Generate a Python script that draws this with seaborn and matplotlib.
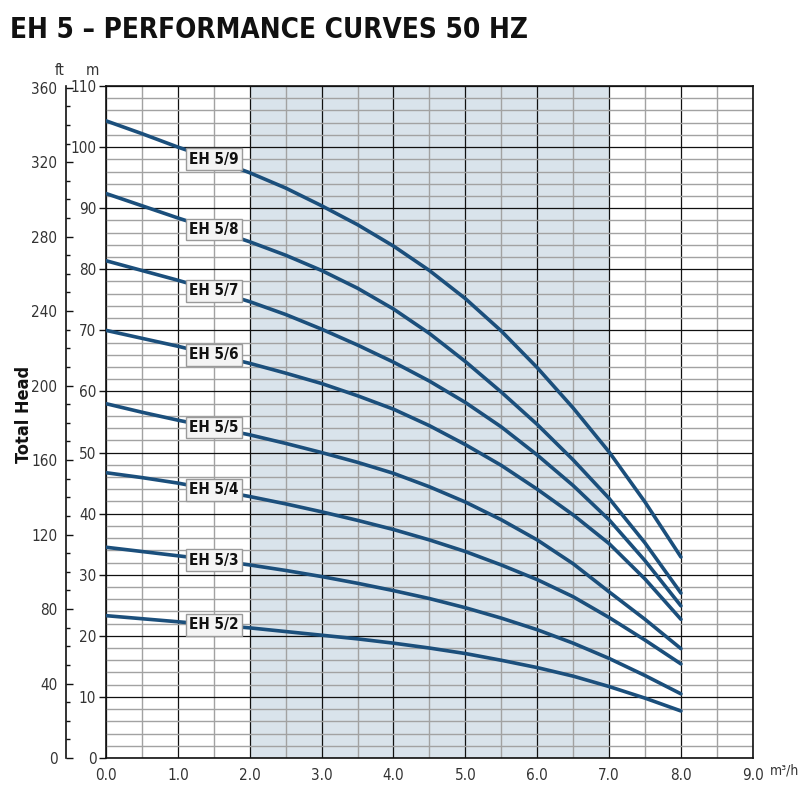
import matplotlib.pyplot as plt
import matplotlib.ticker as mticker
import numpy as np
import pandas as pd
import seaborn as sns

# Data (flow in m3/h, head in m)
flow = [0, 0.5, 1, 1.5, 2, 2.5, 3, 3.5, 4, 4.5, 5, 5.5, 6, 6.5, 7, 7.5, 8]
models = ['EH 5/2', 'EH 5/3', 'EH 5/4', 'EH 5/5', 'EH 5/6', 'EH 5/7', 'EH 5/8', 'EH 5/9']
head_5_2 = [23.3, 22.8, 22.3, 21.8, 21.3, 20.7, 20.1, 19.5, 18.8, 18.0, 17.1, 16.0, 14.8, 13.4, 11.7, 9.8, 7.7]
head_5_3 = [34.5, 33.8, 33.1, 32.4, 31.6, 30.7, 29.7, 28.6, 27.4, 26.1, 24.6, 22.9, 21.0, 18.8, 16.3, 13.5, 10.5]
head_5_4 = [46.7, 45.9, 45.0, 43.9, 42.8, 41.6, 40.3, 38.9, 37.4, 35.7, 33.8, 31.6, 29.2, 26.4, 23.0, 19.3, 15.4]
head_5_5 = [58.0, 56.6, 55.3, 54.1, 52.9, 51.5, 50.0, 48.4, 46.6, 44.4, 41.9, 39.0, 35.7, 31.8, 27.2, 22.7, 17.9]
head_5_6 = [70.0, 68.7, 67.4, 66.0, 64.6, 63.0, 61.3, 59.3, 57.1, 54.4, 51.3, 47.9, 44.0, 39.8, 35.1, 29.3, 22.7]
head_5_7 = [81.4, 79.8, 78.2, 76.5, 74.7, 72.6, 70.2, 67.6, 64.8, 61.7, 58.2, 54.2, 49.6, 44.6, 39.0, 32.3, 24.9]
head_5_8 = [92.4, 90.4, 88.4, 86.5, 84.5, 82.3, 79.8, 76.9, 73.5, 69.5, 64.9, 59.9, 54.6, 48.8, 42.5, 35.2, 27.0]
head_5_9 = [104.3, 102.2, 100.0, 98.0, 95.8, 93.3, 90.4, 87.3, 83.8, 79.8, 75.2, 69.9, 63.9, 57.3, 50.1, 41.9, 32.9]
heads = [head_5_2, head_5_3, head_5_4, head_5_5, head_5_6, head_5_7, head_5_8, head_5_9]
label_flow = 1.5

df = pd.DataFrame({
    'flow': flow * len(models),
    'head': sum(heads, []),
    'model': [m for m in models for _ in flow],
})

line_color = '#1b4f7c'
narrow = ['DejaVu Sans Condensed', 'Liberation Sans Narrow', 'DejaVu Sans']

sns.set_style('white')
plt.rcParams['font.family'] = narrow
plt.rcParams['font.stretch'] = 'condensed'

fig = plt.figure(figsize=(8, 8), dpi=100)
ax = fig.add_axes([0.1325, 0.0525, 0.8085, 0.84])

# recommended operating range
ax.axvspan(2, 7, color='#d9e3eb', zorder=0, lw=0)

sns.lineplot(data=df, x='flow', y='head', hue='model', palette=[line_color] * len(models),
             legend=False, lw=2.6, ax=ax, zorder=3)

# curve labels
for m, h in zip(models, heads):
    y = h[flow.index(label_flow)]
    ax.text(label_flow, y, m, ha='center', va='center', fontsize=11, fontweight='bold',
            color='#111111', zorder=5,
            bbox=dict(boxstyle='square,pad=0.22', fc='#f4f4f4', ec='#9a9a9a', lw=1.0))

ax.set_xlim(0, 9)
ax.set_ylim(0, 110)
ax.xaxis.set_major_locator(mticker.MultipleLocator(1))
ax.xaxis.set_minor_locator(mticker.MultipleLocator(0.5))
ax.yaxis.set_major_locator(mticker.MultipleLocator(10))
ax.yaxis.set_minor_locator(mticker.MultipleLocator(2))
ax.xaxis.set_major_formatter(mticker.FormatStrFormatter('%.1f'))
ax.set_axisbelow(True)
ax.grid(which='major', color='#111111', lw=0.9)
ax.grid(which='minor', color='#a2a2a2', lw=1.0)
ax.tick_params(which='minor', length=0)
ax.tick_params(which='major', length=5, width=1, color='#111111', direction='out',
               labelsize=11, labelcolor='#333333', pad=2)
for s in ax.spines.values():
    s.set_color('#111111')
    s.set_linewidth(1.2)
ax.set_xlabel('')
ax.set_ylabel('')

# secondary feet axis on the left
ax2 = ax.twinx()
ax2.set_ylim(0, 110 * 3.28084)
ax2.yaxis.tick_left()
ax2.spines['left'].set_position(('outward', 29))
ax2.spines['left'].set_color('#111111')
ax2.spines['left'].set_linewidth(1.2)
for side in ['right', 'top', 'bottom']:
    ax2.spines[side].set_visible(False)
ax2.yaxis.set_major_locator(mticker.MultipleLocator(40))
ax2.yaxis.set_minor_locator(mticker.MultipleLocator(10))
ax2.tick_params(which='major', direction='in', length=5, width=1, color='#111111',
                labelsize=11, labelcolor='#333333', pad=6)
ax2.tick_params(which='minor', direction='in', length=3, width=1, color='#111111')
ax2.grid(False)

fig.text(0.075, 0.903, 'ft', fontsize=11, color='#333333', ha='center', va='bottom')
fig.text(0.116, 0.903, 'm', fontsize=11, color='#333333', ha='center', va='bottom')
fig.text(0.03, 0.482, 'Total Head', rotation=90, fontsize=13, fontweight='bold',
         ha='center', va='center', color='#111111')
fig.text(0.962, 0.037, 'm³/h', fontsize=10, color='#333333', ha='left', va='center')
fig.text(0.012, 0.963, 'EH 5 – PERFORMANCE CURVES 50 HZ', fontsize=20, fontweight='bold',
         ha='left', va='center', color='#111111')

fig.savefig('out.png', dpi=100)
